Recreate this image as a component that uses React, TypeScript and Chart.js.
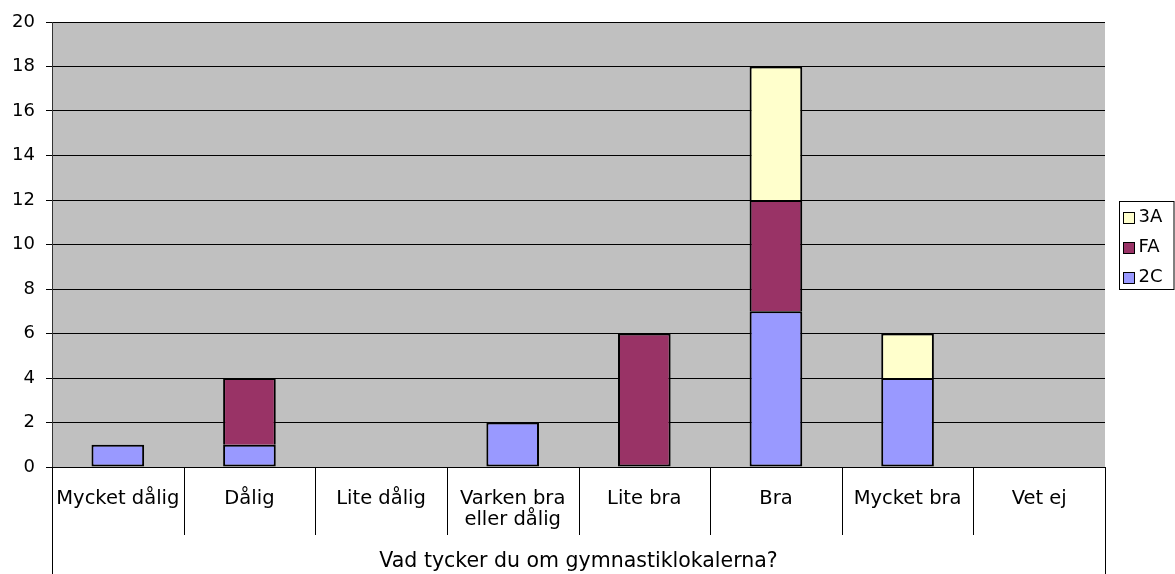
import React, { useEffect, useRef } from "react";
import { Chart, registerables } from "chart.js";

Chart.register(...registerables);

const categories: (string | string[])[] = [
  "Mycket dålig",
  "Dålig",
  "Lite dålig",
  ["Varken bra", "eller dålig"],
  "Lite bra",
  "Bra",
  "Mycket bra",
  "Vet ej",
];
const series2C = [1, 1, 0, 2, 0, 7, 4, 0];
const seriesFA = [0, 3, 0, 0, 6, 5, 0, 0];
const series3A = [0, 0, 0, 0, 0, 6, 2, 0];
const seriesNames = ["2C", "FA", "3A"];
const seriesColors = ["#9999FF", "#993366", "#FFFFCC"];
const yMin = 0;
const yMax = 20;
const yStep = 2;
const axisTitle = "Vad tycker du om gymnastiklokalerna?";

const FONT = "'DejaVu Sans', Verdana, sans-serif";

const plotBg = {
  id: "plotBg",
  beforeDraw(chart: any) {
    const { ctx, chartArea: a } = chart;
    ctx.save();
    ctx.fillStyle = "#C0C0C0";
    ctx.fillRect(a.left, a.top, a.right - a.left, a.bottom - a.top);
    ctx.restore();
  },
};

const xFrame = {
  id: "xFrame",
  afterDraw(chart: any) {
    const { ctx, chartArea: a } = chart;
    const xs = chart.scales.x;
    const n = chart.data.labels.length;
    const step = (xs.getPixelForValue(n - 1) - xs.getPixelForValue(0)) / (n - 1);
    ctx.save();
    ctx.strokeStyle = "#000";
    ctx.lineWidth = 1;
    for (let i = 0; i <= n; i++) {
      const px = Math.round(xs.getPixelForValue(0) - step / 2 + i * step) + 0.5;
      const bottom = i === 0 || i === n ? chart.height : a.bottom + 68;
      ctx.beginPath();
      ctx.moveTo(px, a.bottom);
      ctx.lineTo(px, bottom);
      ctx.stroke();
    }
    ctx.fillStyle = "#000";
    ctx.font = `20.5px ${FONT}`;
    ctx.textAlign = "center";
    ctx.textBaseline = "alphabetic";
    ctx.fillText(axisTitle, (a.left + a.right) / 2, a.bottom + 100);
    ctx.restore();
  },
};

const boxLegend = {
  id: "boxLegend",
  afterDraw(chart: any) {
    const { ctx, chartArea: a } = chart;
    const ds = chart.data.datasets;
    const left = a.right + 14.5;
    const rowH = 30;
    const h = 88;
    const mid = (a.top + a.bottom) / 2;
    const top = Math.round(mid - h / 2) + 0.5;
    ctx.save();
    ctx.strokeStyle = "#000";
    ctx.lineWidth = 1;
    ctx.strokeRect(left, top, chart.width - 1 - left, h);
    ctx.font = `18px ${FONT}`;
    ctx.textBaseline = "middle";
    ctx.textAlign = "left";
    for (let k = 0; k < ds.length; k++) {
      const d = ds[ds.length - 1 - k];
      const cy = top + 16 + k * rowH;
      ctx.fillStyle = d.backgroundColor;
      ctx.fillRect(left + 4, Math.round(cy - 6), 11, 11);
      ctx.strokeStyle = "#000";
      ctx.strokeRect(left + 4, Math.round(cy - 6) + 0.5, 11, 11);
      ctx.fillStyle = "#000";
      ctx.fillText(d.label, left + 19, cy);
    }
    ctx.restore();
  },
};

export default function App() {
  const ref = useRef<HTMLCanvasElement | null>(null);
  useEffect(() => {
    if (!ref.current) return;
    const values = [series2C, seriesFA, series3A];
    const chart = new Chart(ref.current, {
      type: "bar",
      data: {
        labels: categories,
        datasets: values.map((arr, i) => ({
          label: seriesNames[i],
          data: arr.map((v) => (v === 0 ? null : v)),
          backgroundColor: seriesColors[i],
          borderColor: "#000",
          borderWidth: (c: any) => {
            let base = 0;
            for (let j = 0; j < c.datasetIndex; j++) base += values[j][c.dataIndex] || 0;
            return { top: 2, left: 2, right: 2, bottom: base === 0 ? 2 : 0 };
          },
          borderSkipped: false,
          barPercentage: 0.4,
          categoryPercentage: 1,
        })),
      },
      options: {
        animation: false,
        responsive: false,
        maintainAspectRatio: false,
        layout: { padding: { top: 22, left: 12, right: 70, bottom: 0 } },
        plugins: { legend: { display: false }, tooltip: { enabled: false } },
        scales: {
          x: {
            stacked: true,
            offset: true,
            grid: { display: false, drawTicks: false },
            border: { display: false },
            ticks: {
              color: "#000",
              font: { family: FONT, size: 19.5, lineHeight: 1.1 },
              padding: 21,
              maxRotation: 0,
              minRotation: 0,
              autoSkip: false,
            },
            afterFit: (s: any) => {
              s.height = 107;
            },
          },
          y: {
            stacked: true,
            min: yMin,
            max: yMax,
            ticks: {
              stepSize: yStep,
              color: "#000",
              font: { family: FONT, size: 18 },
              padding: 11,
            },
            grid: { color: "#000", lineWidth: 1, tickLength: 6 },
            border: { color: "#333" },
            afterFit: (s: any) => {
              s.width = 40;
            },
          },
        },
      },
      plugins: [plotBg, xFrame, boxLegend],
    });
    return () => chart.destroy();
  }, []);
  return (
    <canvas
      ref={ref}
      width={1175}
      height={574}
      style={{ position: "fixed", left: 0, top: 0, width: 1175, height: 574 }}
    />
  );
}
